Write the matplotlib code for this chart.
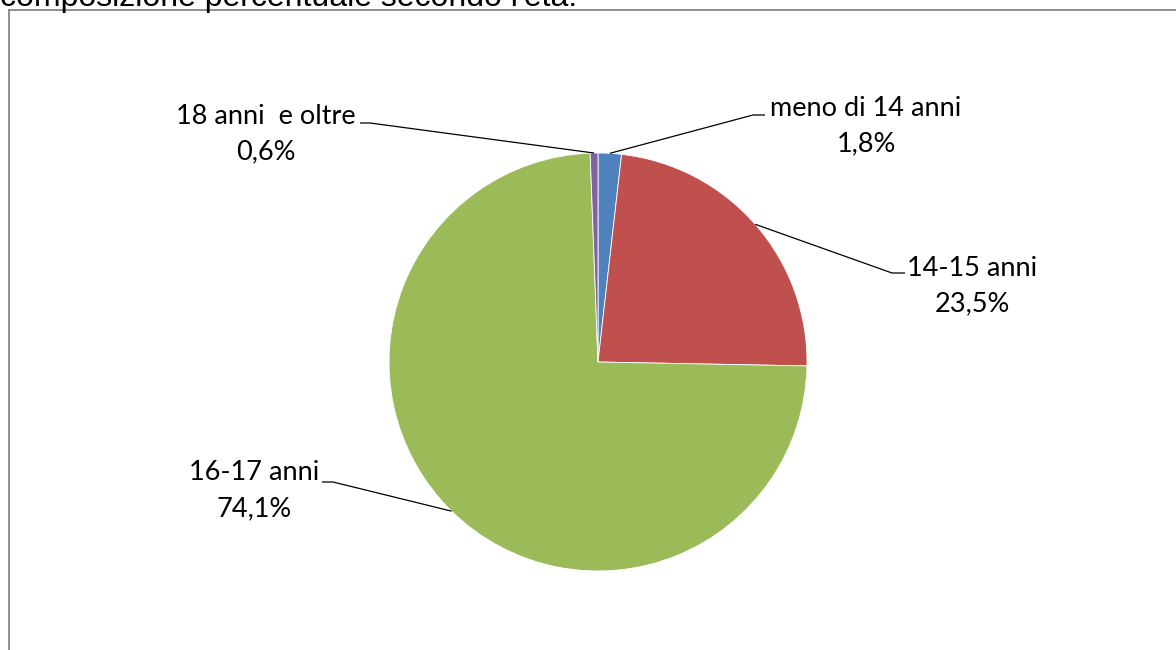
import numpy as np
import matplotlib
matplotlib.use("Agg")
import matplotlib.pyplot as plt

# ---- data ----
categories = ["meno di 14 anni", "14-15 anni", "16-17 anni", "18 anni  e oltre"]
values = [1.8, 23.5, 74.1, 0.6]
colors = ["#4F81BD", "#C0504D", "#9BBB59", "#8064A2"]
title = "composizione percentuale secondo l'età."

W, H = 1176, 650
fig = plt.figure(figsize=(W / 100, H / 100), dpi=100)
ax = fig.add_axes([0, 0, 1, 1])

def Y(py):
    return H - py

cx, cy, R = 598, Y(362), 209
wedges, _ = ax.pie(values, colors=colors, startangle=90, counterclock=False,
                   center=(cx, cy), radius=R,
                   wedgeprops=dict(edgecolor="white", linewidth=0.6))
ax.set_xlim(0, W)
ax.set_ylim(0, H)
ax.set_aspect("equal")
ax.axis("off")

# label layout: (elbow x, elbow y, end x, text center x, first line y) in pixel coords
layout = [
    (753, 115, 765, 866, 108),
    (892, 273, 905, 972, 268),
    (333, 482, 322, 254, 473),
    (370, 123, 360, 266, 116),
]
font = ["Lato", "DejaVu Sans"]
fs = 19.5
for w, cat, v, (ex, ey, endx, tx, ty) in zip(wedges, categories, values, layout):
    mid = np.deg2rad((w.theta1 + w.theta2) / 2)
    px, py = cx + R * np.cos(mid), cy + R * np.sin(mid)
    ax.plot([px, ex, endx], [py, Y(ey), Y(ey)], color="black", lw=0.9,
            solid_capstyle="butt")
    pct = f"{v:.1f}".replace(".", ",") + "%"
    ax.text(tx, Y(ty), cat, ha="center", va="center", fontsize=fs,
            family=font, color="black")
    ax.text(tx, Y(ty + 36), pct, ha="center", va="center", fontsize=fs,
            family=font, color="black")

# chart frame (partially visible)
ax.plot([9, 9], [0, Y(10)], color="#868686", lw=1.3, clip_on=False)
ax.plot([9, W], [Y(10), Y(10)], color="#868686", lw=1.3, clip_on=False)

# cut-off title at the top
fig.text(0.0, 1 - 6 / H, title, ha="left", va="baseline", fontsize=23,
         family=["Liberation Sans", "DejaVu Sans"], color="black")

fig.savefig("out.png", dpi=100, facecolor="white")
